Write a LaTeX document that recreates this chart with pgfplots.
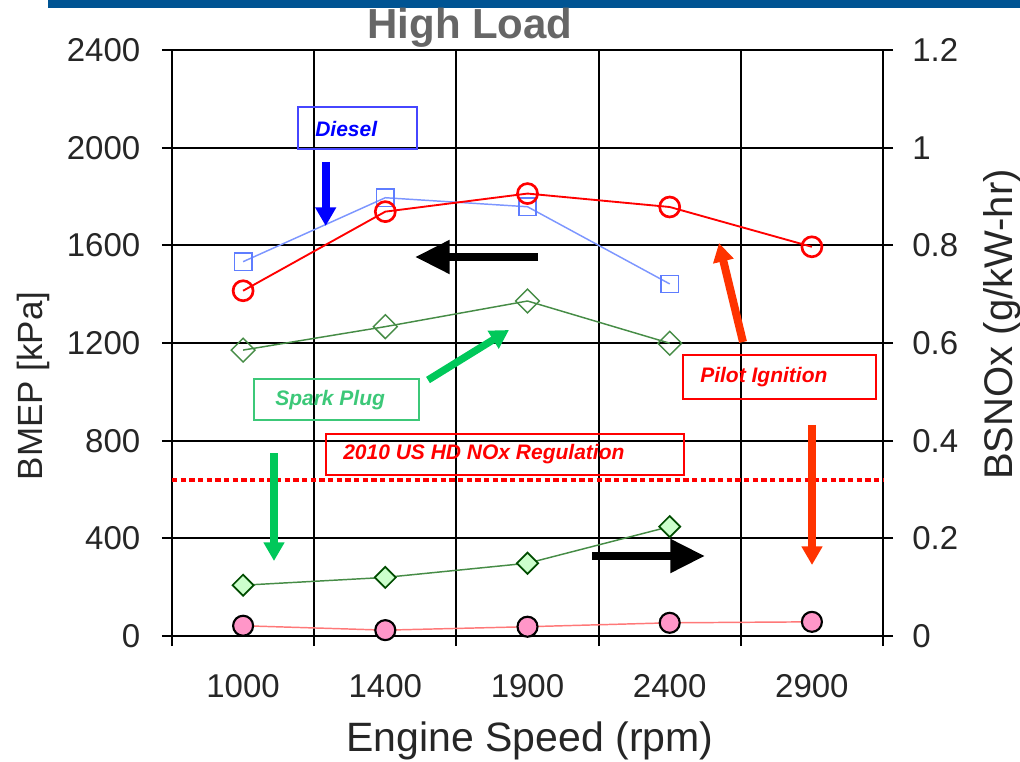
\documentclass[border=0pt]{standalone}
\usepackage{fontspec}
\setmainfont{Liberation Sans}
\usepackage{pgfplots}
\pgfplotsset{compat=1.18}
\usetikzlibrary{arrows.meta}

\definecolor{barblue}{RGB}{0,84,147}
\definecolor{titlegray}{RGB}{102,102,102}
\definecolor{dieselline}{RGB}{125,150,255}
\definecolor{dieselmark}{RGB}{95,125,255}
\definecolor{sparkdark}{RGB}{70,140,70}
\definecolor{sparkfill}{RGB}{204,255,204}
\definecolor{pinkfill}{RGB}{255,150,200}
\definecolor{pinkline}{RGB}{255,120,120}
\definecolor{arrowgreen}{RGB}{0,200,90}
\definecolor{arrowred}{RGB}{255,51,0}
\definecolor{boxgreen}{RGB}{60,200,120}
\definecolor{boxblue}{RGB}{70,70,255}

\pgfplotsset{
  commonaxis/.style={
    at={(129pt,93.75pt)}, anchor=south west,
    scale only axis, width=533.25pt, height=439.5pt,
    xmin=-0.5, xmax=4.5,
    tick align=outside,
    major tick length=7.5pt, minor tick length=7.5pt,
    axis line style={line width=1.5pt},
    every tick/.style={black, line width=1.5pt},
    ticklabel style={font=\fontsize{24.75}{28}\selectfont, text=black!85},
    /pgf/number format/assume math mode=true,
    /pgf/number format/1000 sep={},
    clip=false,
  },
}

\begin{document}
\begin{tikzpicture}
\useasboundingbox (0,0) rectangle (765pt,570.75pt);

% left axis: brake mean effective pressure
\begin{axis}[commonaxis,
  ymin=0, ymax=2400,
  xtick={0,1,2,3,4}, xticklabels={1000,1400,1900,2400,2900},
  major x tick style={draw=none},
  minor xtick={-0.5,0.5,1.5,2.5,3.5,4.5},
  xminorgrids=true,
  minor grid style={black, line width=1.5pt},
  ytick={0,400,800,1200,1600,2000,2400},
  ymajorgrids=true,
  major grid style={black, line width=1.5pt},
  ytick pos=left, xtick pos=bottom,
  yticklabel style={xshift=-12.75pt},
  xticklabel style={yshift=-18pt},
]
% Diesel
\addplot[dieselline, line width=1.1pt, mark=square,
  mark size=6.5pt, mark options={draw=dieselmark, line width=1.1pt, fill=none}]
  coordinates {(0,1533) (1,1795) (2,1758) (3,1442)};
% Pilot ignition
\addplot[red, line width=1.4pt, mark=o,
  mark size=7.5pt, mark options={red, line width=2pt}]
  coordinates {(0,1414) (1,1738) (2,1812) (3,1757) (4,1594)};
% Spark plug
\addplot[sparkdark, line width=1.1pt, mark=square,
  mark size=6.3pt, mark options={sparkdark, rotate=45, line width=1.1pt, fill=none}]
  coordinates {(0,1171) (1,1267) (2,1372) (3,1199)};
\end{axis}

% right axis: brake specific NOx
\begin{axis}[commonaxis,
  ymin=0, ymax=1.2,
  axis x line=none,
  axis y line*=right,
  ytick={0,0.2,0.4,0.6,0.8,1,1.2},
  yticklabel style={xshift=11pt},
]
% 2010 US HD NOx limit
\addplot[red, line width=3pt, dash pattern=on 4pt off 2.5pt]
  coordinates {(-0.5,0.319) (4.5,0.319)};
% Spark plug NOx
\addplot[sparkdark, line width=1.1pt, mark=square*,
  mark size=5.6pt, mark options={rotate=45, draw=black!70!green, fill=sparkfill, line width=1.3pt}]
  coordinates {(0,0.104) (1,0.120) (2,0.149) (3,0.224)};
% Pilot ignition NOx
\addplot[pinkline, line width=1.1pt, mark=*,
  mark size=7.5pt, mark options={draw=black, fill=pinkfill, line width=1.6pt}]
  coordinates {(0,0.021) (1,0.012) (2,0.019) (3,0.027) (4,0.029)};
\end{axis}

% annotations, placed in pixel units measured from the top-left corner
\begin{scope}[x=0.75pt, y=-0.75pt, yshift=570.75pt]
  \fill[barblue] (48,0) rectangle (1020,8.3);
  \node[anchor=base, text=titlegray, font=\bfseries\fontsize{31.5}{34}\selectfont]
    at (470,39) {High Load};
  \node[anchor=base, rotate=90, font=\fontsize{26.25}{30}\selectfont, text=black!85]
    at (42,386) {BMEP [kPa]};
  \node[anchor=base west, rotate=90, font=\fontsize{30}{34}\selectfont, text=black!85, inner sep=0pt]
    at (1012,480) {BSNOx (g/kW-hr)};
  \node[anchor=base, font=\fontsize{30.75}{34}\selectfont, text=black!85]
    at (530,751) {Engine Speed (rpm)};

  % label boxes
  \tikzset{lbl/.style={anchor=west, inner sep=0pt, font=\bfseries\itshape\fontsize{15.75}{18}\selectfont}}
  \draw[boxblue, line width=1.4pt] (297.7,106.7) rectangle (416.7,149);
  \node[lbl, text=blue] at (315,128.5) {Diesel};
  \draw[boxgreen, line width=1.4pt] (254,379.3) rectangle (419.3,420);
  \node[lbl, text=boxgreen] at (275,400) {Spark Plug};
  \draw[red, line width=1.4pt] (325.7,434) rectangle (684,474.7);
  \node[lbl, text=red] at (343,454.5) {2010 US HD NOx Regulation};
  \draw[red, line width=1.4pt] (682.7,355) rectangle (876,399.3);
  \node[lbl, text=red] at (700,377) {Pilot Ignition};

  % pointer arrows
  \draw[blue, line width=6pt, -{Triangle[width=15pt,length=14pt]}] (325.7,162) -- (325.7,226);
  \draw[black, line width=6pt, -{Triangle[width=24pt,length=26pt]}] (538,257) -- (415,257);
  \draw[arrowgreen, line width=5.5pt, -{Triangle[width=15pt,length=14pt]}] (428,380) -- (509,330);
  \draw[arrowred, line width=6pt, -{Triangle[width=15pt,length=14pt]}] (743,342) -- (719,243);
  \draw[arrowred, line width=6pt, -{Triangle[width=15pt,length=14pt]}] (812,425) -- (812,565);
  \draw[arrowgreen, line width=5.5pt, -{Triangle[width=15pt,length=14pt]}] (274,453) -- (274,561);
  \draw[black, line width=6pt, -{Triangle[width=24pt,length=26pt]}] (592,556) -- (705,556);
\end{scope}
\end{tikzpicture}
\end{document}
